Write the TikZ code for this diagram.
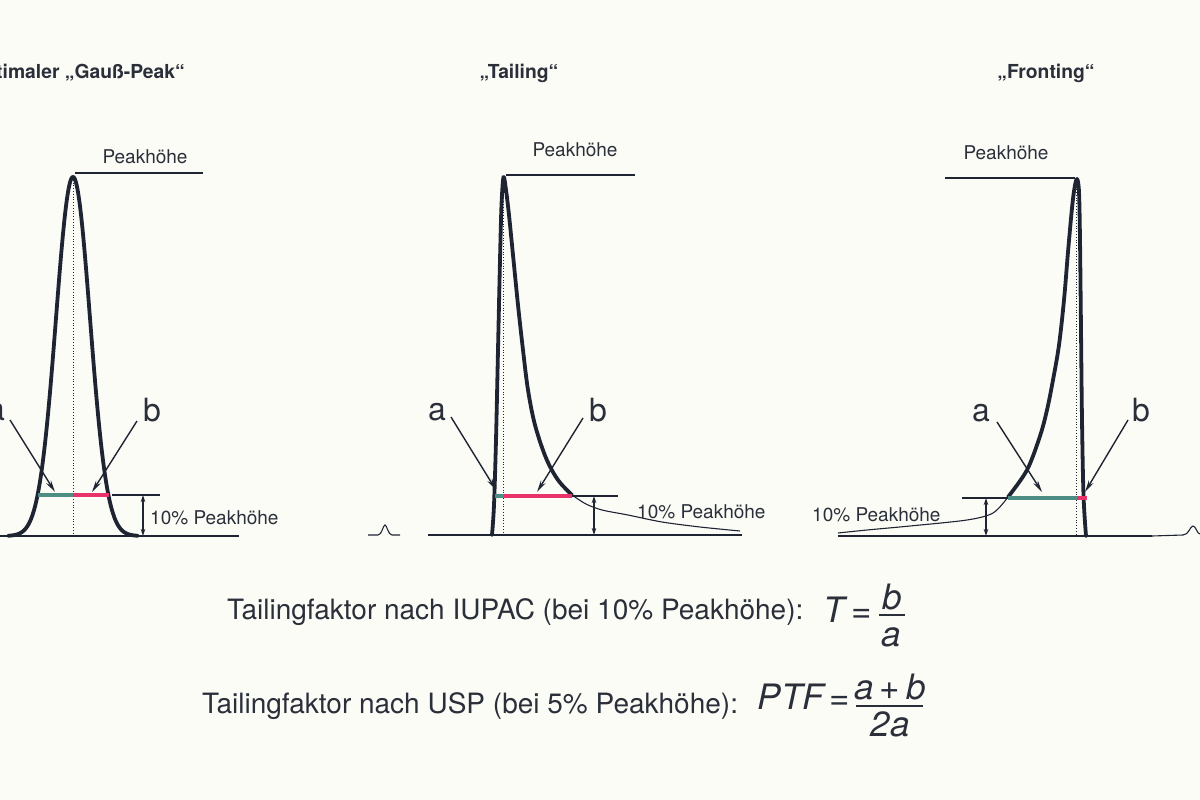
\documentclass[tikz,border=0pt]{standalone}
\usepackage{fontspec}
\setmainfont{TeX Gyre Heros}
\usetikzlibrary{arrows.meta}
\definecolor{ink}{HTML}{1F2433}
\definecolor{txt}{HTML}{2A2F3A}
\definecolor{segteal}{HTML}{4E8D84}
\definecolor{segred}{HTML}{E8336A}
\definecolor{paper}{HTML}{FCFCF7}
\begin{document}
\begin{tikzpicture}[x=1pt,y=-1pt,
  peak/.style={draw=ink, line width=3.8pt, line join=round, line cap=round},
  tailline/.style={draw=ink, line width=1.1pt},
  baseln/.style={draw=ink, line width=1.8pt},
  hline/.style={draw=ink, line width=1.3pt},
  dotv/.style={draw=ink, line width=0.8pt, dotted},
  ptr/.style={draw=ink, line width=1.4pt, -{Stealth[length=12pt,width=5.5pt]}},
  dim/.style={draw=ink, line width=1.2pt, {Stealth[length=7pt,width=4.5pt]}-{Stealth[length=7pt,width=4.5pt]}},
  segt/.style={draw=segteal, line width=3.8pt},
  segr/.style={draw=segred, line width=3.8pt},
  lbl/.style={text=txt, inner sep=0pt, font=\fontsize{19}{22}\selectfont},
  ttl/.style={text=txt, inner sep=0pt, font=\bfseries\fontsize{19.3}{23}\selectfont},
  ab/.style={text=txt, inner sep=0pt, font=\fontsize{32}{35}\selectfont},
  body/.style={text=txt, inner sep=0pt, font=\fontsize{28}{33}\selectfont},
  fml/.style={text=txt, inner sep=0pt, font=\itshape\fontsize{35}{38}\selectfont},
  fmlup/.style={text=txt, inner sep=0pt, font=\fontsize{35}{38}\selectfont},
  frac/.style={draw=txt, line width=1.8pt}
]
\fill[paper] (0,0) rectangle (1200,800);
\useasboundingbox (0,0) rectangle (1200,800);
\clip (0,0) rectangle (1200,800);

% ---------- titles ----------
\node[ttl, anchor=base east] (t1) at (185,78) {Optimaler „Gauß-Peak“};
\node[ttl, anchor=base] (t2) at (519,78) {„Tailing“};
\node[ttl, anchor=base] (t3) at (1046,78) {„Fronting“};

% ---------- Gauss peak ----------
\node[lbl, anchor=base] (gh) at (145,163) {Peakhöhe};
\coordinate (gtop) at (73,177);
\coordinate (gbot) at (73,536);
\draw[hline] (75,173) -- (203,173);
\draw[dotv] (gtop) -- (gbot);
\draw[baseln] (0,536) -- (239,536);
\draw[peak] plot[domain=8:138, samples=160] (\x,{536-359*exp(-((\x-73)^2)/578)});
\coordinate (gl) at (37.5,495);
\coordinate (gm) at (73,495);
\coordinate (gr) at (108.5,495);
\draw[segt] (gl) -- (gm);
\draw[segr] (gm) -- (gr);
\draw[hline] (112,495) -- (160,495);
\coordinate (gd1) at (143,495);
\coordinate (gd2) at (143,536);
\draw[dim] (gd1) -- (gd2);
\node[lbl, anchor=base west] (g10) at (150,524) {10\% Peakhöhe};
\node[ab, anchor=base] (ga) at (-4,420) {a};
\node[ab, anchor=base] (gb) at (152,421) {b};
\coordinate (gas) at (10,420);
\coordinate (gae) at (55,492);
\coordinate (gbs) at (137,421);
\coordinate (gbe) at (92,492);
\draw[ptr] (gas) -- (gae);
\draw[ptr] (gbs) -- (gbe);

% ---------- Tailing peak ----------
\node[lbl, anchor=base] (th) at (575,156) {Peakhöhe};
\coordinate (ttop) at (503.5,176);
\coordinate (tbot) at (503.5,535);
\draw[hline] (506,175) -- (635,175);
\draw[dotv] (ttop) -- (tbot);
\draw[tailline] (368,535) -- (378,535) .. controls (382,535) and (383,525) .. (385,525) .. controls (387,525) and (388,535) .. (392,535) -- (400,535);
\draw[baseln] (428,535) -- (742,535);
\draw[peak] plot[smooth, tension=0.55] coordinates {(492,535) (494,505) (496,440) (498,350) (500,260) (501.5,205) (503.5,177) (506,190) (509,215) (513,255) (518,305) (523,350) (528,390) (535,425) (546,458) (558,480) (572,495)};
\draw[tailline] plot[smooth] coordinates {(572,495) (586,504) (602,510) (628,515) (662,522) (700,527) (740,531)};
\coordinate (tl) at (494.5,496);
\coordinate (tm) at (503.5,496);
\coordinate (tr) at (572,496);
\draw[segt] (tl) -- (tm);
\draw[segr] (tm) -- (tr);
\draw[hline] (572,496) -- (618,496);
\coordinate (td1) at (594,496);
\coordinate (td2) at (594,535);
\draw[dim] (td1) -- (td2);
\node[lbl, anchor=base west] (t10) at (637,518) {10\% Peakhöhe};
\node[ab, anchor=base] (ta) at (437,420) {a};
\node[ab, anchor=base] (tb) at (598,421) {b};
\coordinate (tas) at (451,417);
\coordinate (tae) at (496,490);
\coordinate (tbs) at (583,418);
\coordinate (tbe) at (537,492);
\draw[ptr] (tas) -- (tae);
\draw[ptr] (tbs) -- (tbe);

% ---------- Fronting peak ----------
\node[lbl, anchor=base] (fh) at (1006,159) {Peakhöhe};
\coordinate (ftop) at (1076.5,178);
\coordinate (fbot) at (1076.5,536);
\draw[hline] (945,178) -- (1075,178);
\draw[dotv] (ftop) -- (fbot);
\draw[baseln] (838,536) -- (1152,536);
\draw[tailline] (1152,536) -- (1183,535) .. controls (1189,535) and (1190,526) .. (1193,526) .. controls (1196,526) and (1197,534) .. (1200,534);
\draw[peak] plot[smooth, tension=0.55] coordinates {(1008,497) (1027,470) (1040,436) (1047,410) (1053,380) (1059,345) (1064,300) (1068,252) (1072,208) (1074.5,188) (1077,179) (1079,192) (1080,240) (1081,330) (1082,420) (1083.5,495) (1086,536)};
\draw[tailline] plot[smooth] coordinates {(838,533) (867,530) (910,526) (967,520) (993,513) (1008,497)};
\coordinate (fl) at (1008,498);
\coordinate (fm) at (1076.5,498);
\coordinate (fr) at (1087,498);
\draw[segt] (fl) -- (fm);
\draw[segr] (fm) -- (fr);
\draw[hline] (962,498) -- (1008,498);
\coordinate (fd1) at (986,498);
\coordinate (fd2) at (986,536);
\draw[dim] (fd1) -- (fd2);
\node[lbl, anchor=base west] (f10) at (812,521) {10\% Peakhöhe};
\node[ab, anchor=base] (fa) at (981,421) {a};
\node[ab, anchor=base] (fb) at (1141,421) {b};
\coordinate (fas) at (997,422);
\coordinate (fae) at (1042,492);
\coordinate (fbs) at (1128,420);
\coordinate (fbe) at (1085,492);
\draw[ptr] (fas) -- (fae);
\draw[ptr] (fbs) -- (fbe);

% ---------- formulas ----------
\node[body, anchor=base west] (l1) at (227,619) {Tailingfaktor nach IUPAC (bei 10\% Peakhöhe):};
\node[body, anchor=base west] (l2) at (202,713) {Tailingfaktor nach USP (bei 5\% Peakhöhe):};

\node[fml, anchor=base west] (f1T) at (823,622) {T};
\node[fmlup, anchor=base] (f1eq) at (862,622) {=};
\node[fml, anchor=base] (f1b) at (892,609) {b};
\draw[frac] (879,615) -- (905,615);
\node[fml, anchor=base] (f1a) at (891,646) {a};

\node[fml, anchor=base east] (f2P) at (824,709) {PTF};
\node[fmlup, anchor=base] (f2eq) at (840,709) {=};
\node[fml, anchor=base] (f2n) at (890,699) {a{\upshape\,+\,}b};
\draw[frac] (856,706) -- (923,706);
\node[fml, anchor=base] (f2d) at (890,736) {2a};
\end{tikzpicture}
\end{document}
